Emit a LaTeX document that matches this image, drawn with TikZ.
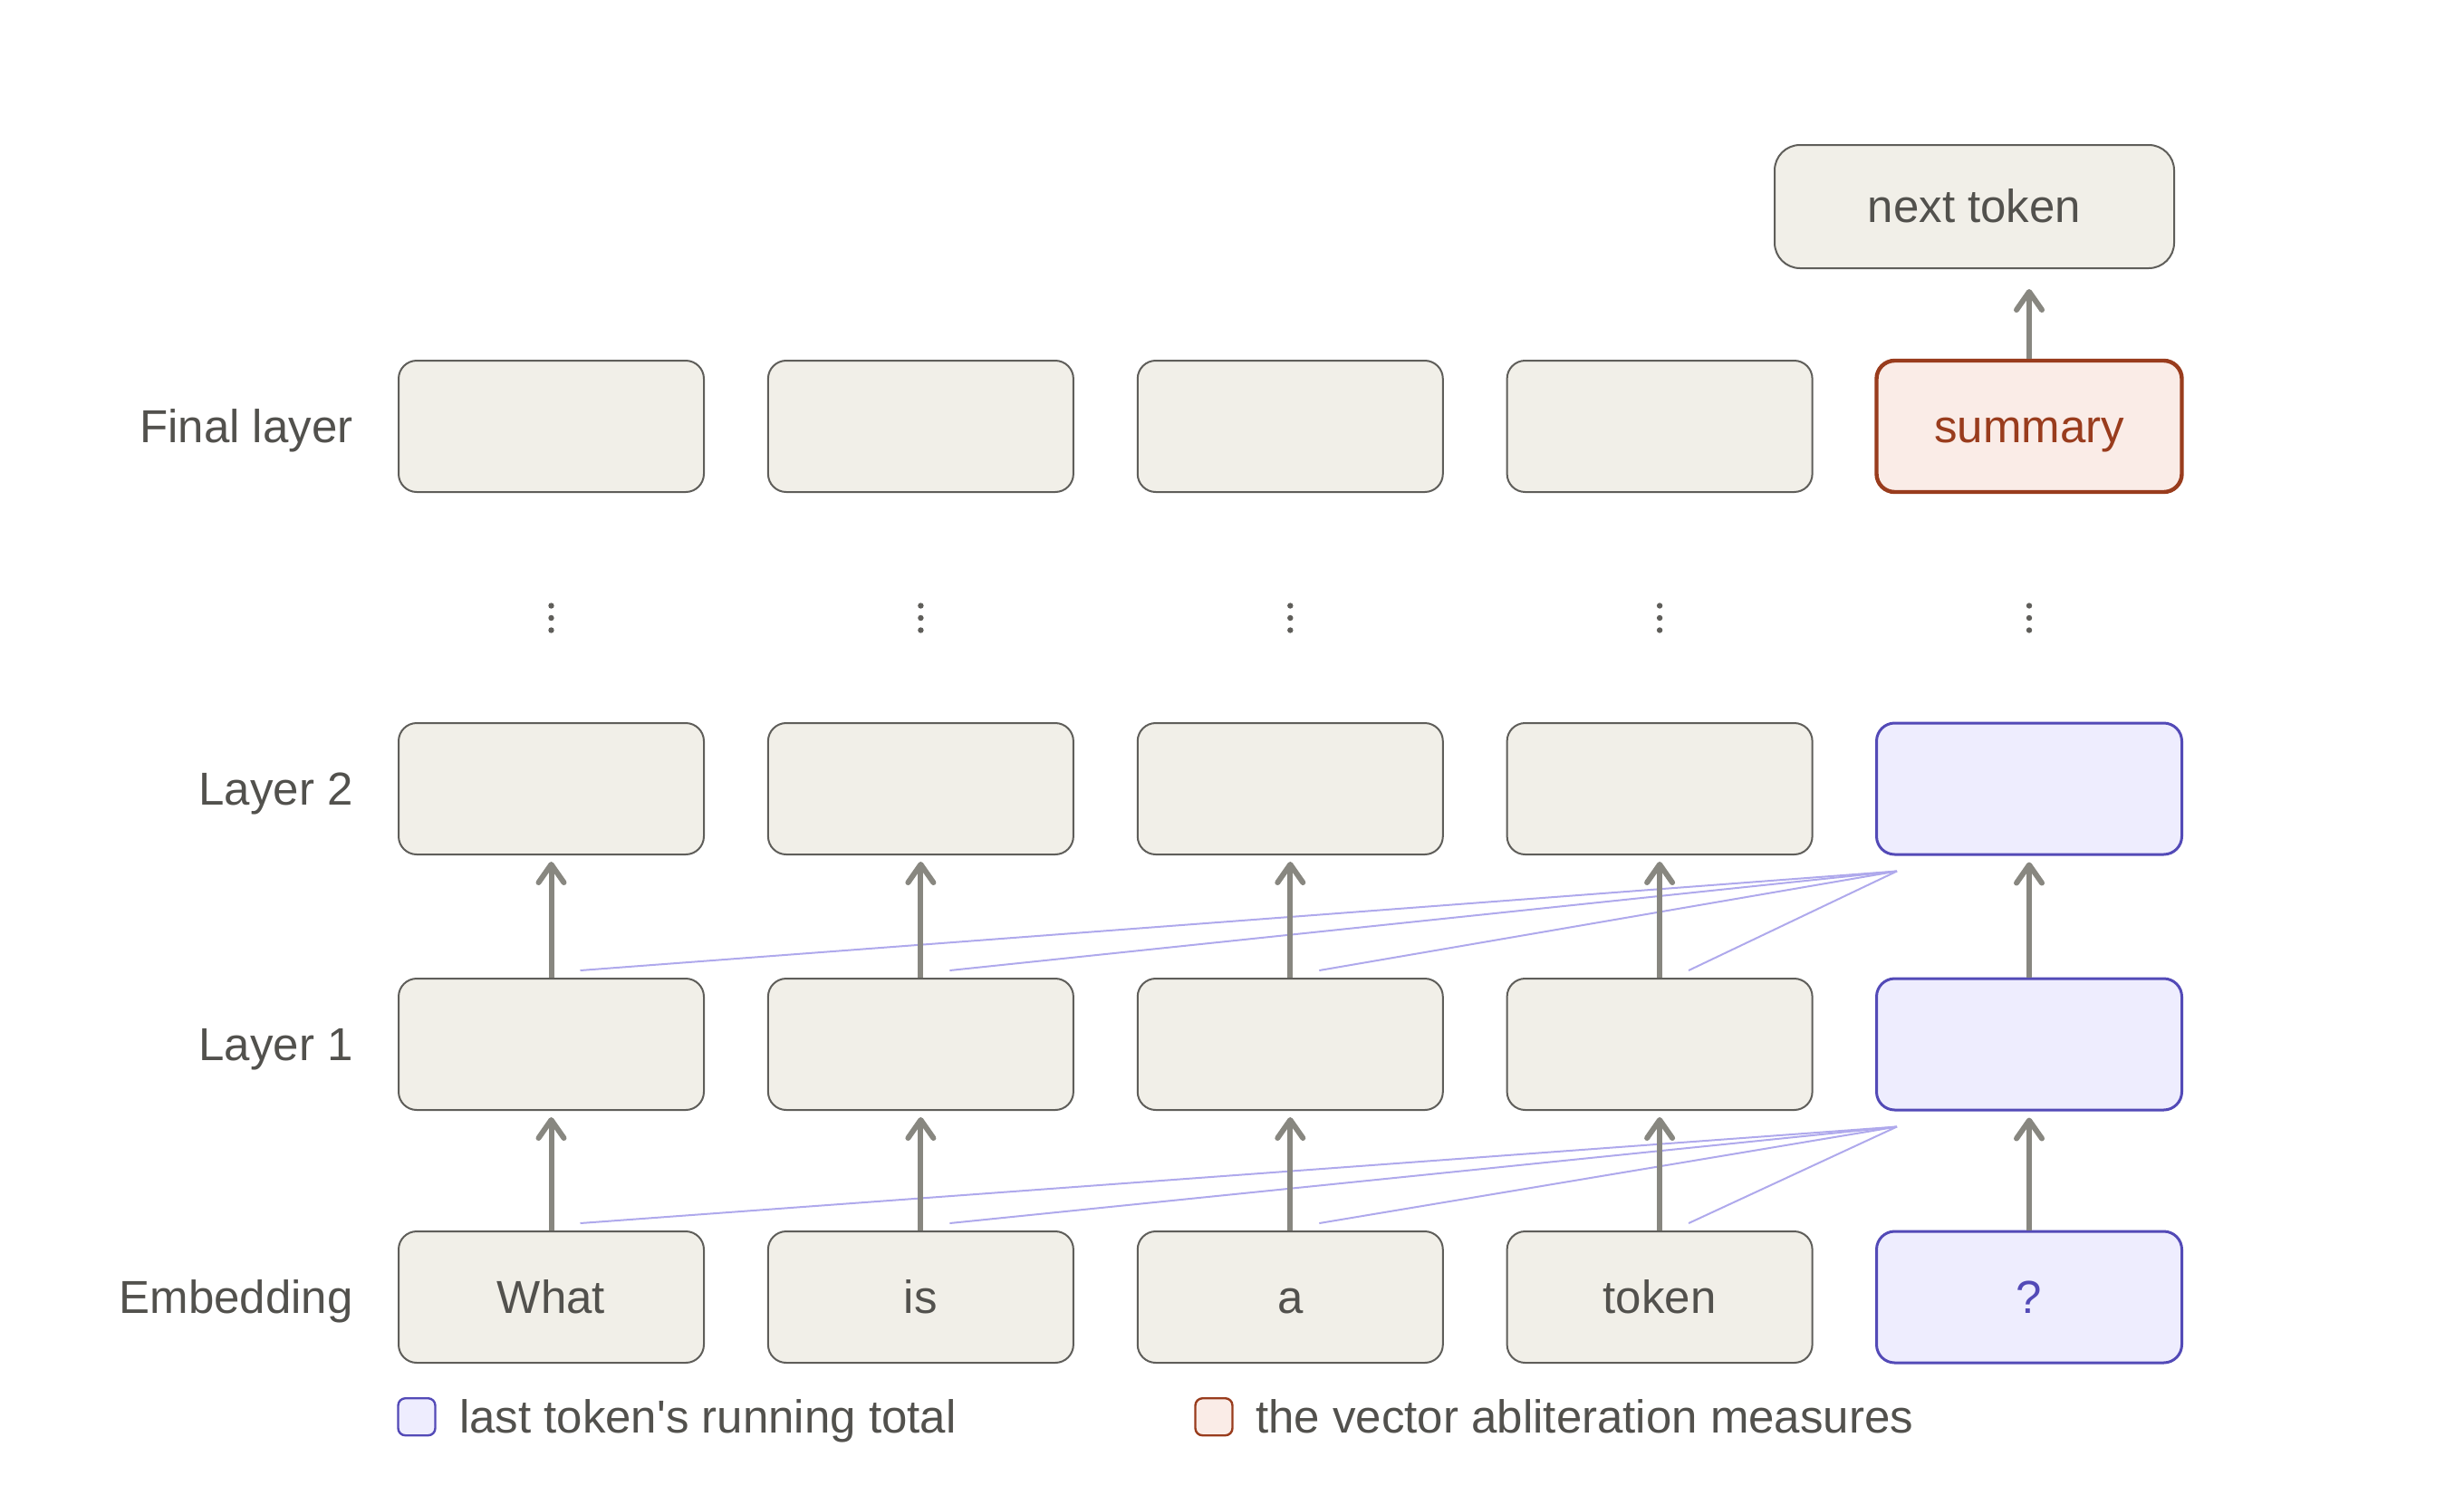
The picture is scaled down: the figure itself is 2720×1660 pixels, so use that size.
\documentclass[tikz,border=0pt]{standalone}
\usepackage{fontspec}
\setmainfont{Liberation Sans}
\usetikzlibrary{arrows.meta}
\definecolor{txt}{HTML}{52514D}
\definecolor{bfill}{HTML}{F1EFE8}
\definecolor{bdraw}{HTML}{5F5E5A}
\definecolor{pfill}{HTML}{EEEDFE}
\definecolor{pdraw}{HTML}{534AB7}
\definecolor{rfill}{HTML}{FAECE7}
\definecolor{rdraw}{HTML}{993C1D}
\definecolor{arrc}{HTML}{888780}
\definecolor{plink}{HTML}{AFA9EC}
\begin{document}
\begin{tikzpicture}[x=0.5pt,y=-0.5pt,
  font=\fontsize{25.5pt}{30pt}\selectfont,
  cell/.style={draw=bdraw, fill=bfill, line width=1pt, rounded corners=10pt,
    minimum width=168.5pt, minimum height=72.5pt, inner sep=0pt,
    text height=17.9pt, text depth=0pt, text=txt},
  pcell/.style={cell, draw=pdraw, fill=pfill, line width=1.5pt, text=pdraw},
  rcell/.style={cell, draw=rdraw, fill=rfill, line width=2.2pt, text=rdraw},
  lab/.style={anchor=east, inner sep=0pt, text height=17.9pt, text depth=0pt, text=txt},
  legbox/.style={line width=1.2pt, rounded corners=4pt, minimum size=20.5pt, inner sep=0pt},
  arr/.style={draw=arrc, line width=3pt,
    -{Straight Barb[length=10pt,width=14pt,line cap=round,line join=round]},
    shorten >=3.5pt},
  plk/.style={draw=plink, line width=1pt}]
\useasboundingbox (0,0) rectangle (2720,1660);

% row labels
\node[lab] (labF) at (390,470.5) {Final layer};
\node[lab] (labM) at (390,870.5) {Layer 2};
\node[lab] (labL) at (390,1152.5) {Layer 1};
\node[lab] (labE) at (390,1431.5) {Embedding};

% grid of cells
\foreach \i/\x/\t in {1/608.5/What,2/1016.4/is,3/1424.3/a,4/1832.1/token} {
  \node[cell] (e\i) at (\x,1431.5) {\t};
  \node[cell] (l\i) at (\x,1152.5) {};
  \node[cell] (m\i) at (\x,870.5) {};
  \node[cell] (f\i) at (\x,470.5) {};
}
\node[pcell] (e5) at (2240,1431.5) {?};
\node[pcell] (l5) at (2240,1152.5) {};
\node[pcell] (m5) at (2240,870.5) {};
\node[rcell] (f5) at (2240,470.5) {summary};
\node[cell, minimum width=220.5pt, minimum height=68pt, rounded corners=14pt] (nt) at (2179.5,228) {next token};

% vertical dots
\foreach \x in {608.5,1016.4,1424.3,1832.1,2240}
  \foreach \y in {668.5,682,695.5}
    \fill[bdraw] (\x,\y) circle[radius=1.6pt];

% attention lines
\coordinate (oL) at ([xshift=12pt,yshift=-8.5pt]l5.south west);
\coordinate (oM) at ([xshift=12pt,yshift=-8.5pt]m5.south west);
\foreach \i in {1,...,4} {
  \draw[plk] ([xshift=16pt,yshift=4pt]l\i.north) -- (oM);
  \draw[plk] ([xshift=16pt,yshift=4pt]e\i.north) -- (oL);
}

% arrows
\foreach \i in {1,...,5} {
  \draw[arr] (e\i.north) -- (l\i.south);
  \draw[arr] (l\i.north) -- (m\i.south);
}
\draw[arr, shorten >=11pt] (f5.north) -- (f5.north |- nt.south);

% legend
\node[legbox, draw=pdraw, fill=pfill] (lg1) at (460,1563.7) {};
\node[lab, anchor=west] (lt1) at (506.7,1563.7) {last token\textquotesingle s running total};
\node[legbox, draw=rdraw, fill=rfill] (lg2) at (1340,1563.7) {};
\node[lab, anchor=west] (lt2) at (1386,1563.7) {the vector abliteration measures};
\end{tikzpicture}
\end{document}
